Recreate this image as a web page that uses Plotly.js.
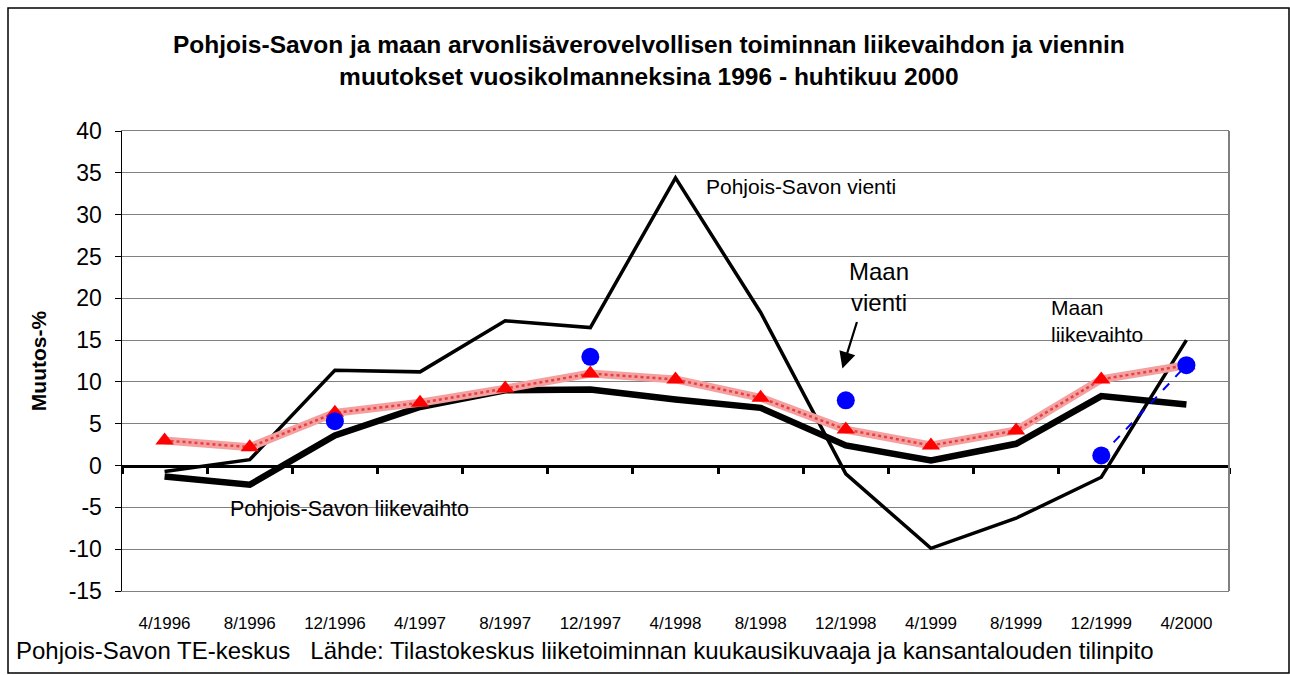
<!DOCTYPE html>
<html><head><meta charset="utf-8">
<script src="https://cdn.plot.ly/plotly-3.0.1.min.js"></script>
<style>html,body{margin:0;padding:0;background:#fff}#chart{width:1290px;height:675px}</style>
</head><body><div id="chart"></div>
<script>
const categories = ['4/1996','8/1996','12/1996','4/1997','8/1997','12/1997','4/1998','8/1998','12/1998','4/1999','8/1999','12/1999','4/2000'];
const psVienti = [-0.7, 0.7, 11.4, 11.2, 17.3, 16.5, 34.4, 18.3, -1.0, -9.9, -6.3, -1.4, 15.0];
const psLiikevaihto = [-1.3, -2.3, 3.6, 7.0, 9.0, 9.1, 7.9, 6.9, 2.4, 0.6, 2.6, 8.3, 7.3];
const maanLiikevaihto = [3.0, 2.2, 6.3, 7.5, 9.2, 11.0, 10.3, 8.1, 4.3, 2.4, 4.2, 10.3, 12.0];
const maanVienti = [null, null, 5.3, null, null, 13.0, null, null, 7.8, null, null, 1.2, 12.0];
const yTickVals = [-15, -10, -5, 0, 5, 10, 15, 20, 25, 30, 35, 40];
const yTickText = ['-15', '-10', '-5', '0', '5', '10', '15', '20', '25', '30', '35', '40'];

const idx = categories.map((c,i)=>i);
const font = 'Liberation Sans, Arial, sans-serif';
const W = 1107, H = 460, L = 122, T = 131;
const px = x => (x - L) / W;
const py = y => (T + H - y) / H;

const traces = [
  {x: idx, y: psVienti, type:'scatter', mode:'lines', line:{color:'#000', width:3.5}, hoverinfo:'skip'},
  {x: idx, y: psLiikevaihto, type:'scatter', mode:'lines', line:{color:'#000', width:6.5}, hoverinfo:'skip'},
  {x: idx, y: maanLiikevaihto, type:'scatter', mode:'lines', line:{color:'#f4a0a0', width:8}, hoverinfo:'skip'},
  {x: idx, y: maanLiikevaihto, type:'scatter', mode:'lines+markers', line:{color:'#e64040', width:2.5, dash:'dot'},
   marker:{symbol:'triangle-up', size:16, color:'#ff0000'}, hoverinfo:'skip'},
  {x: idx, y: maanVienti, type:'scatter', mode:'lines+markers', connectgaps:false,
   line:{color:'#0000ff', width:2, dash:'dash'}, marker:{symbol:'circle', size:18, color:'#0000ff'}, hoverinfo:'skip'},
  {x: [idx[0]], y: [0], xaxis:'x2', type:'scatter', mode:'markers', marker:{opacity:0}, hoverinfo:'skip'}
];

const boundaries = categories.map((c,i)=>i-0.5).concat([categories.length-0.5]);

const layout = {
  width:1290, height:675,
  margin:{l:L, r:1290-L-W, t:T, b:675-T-H},
  paper_bgcolor:'#fff', plot_bgcolor:'#fff',
  showlegend:false,
  font:{family:font, color:'#000'},
  title:{text:'<b>Pohjois-Savon ja maan arvonlisäverovelvollisen toiminnan liikevaihdon ja viennin<br>muutokset vuosikolmanneksina 1996 - huhtikuu 2000</b>',
         font:{size:24.5, family:font}, x:0.503, xref:'container', y:0.921, yref:'container', yanchor:'top'},
  xaxis:{range:[-0.5, categories.length-0.5], tickvals:idx, ticktext:categories, showgrid:false, zeroline:false,
         showline:true, linecolor:'#808080', linewidth:1, mirror:true, ticks:'', tickfont:{size:17, family:font},
         ticklabelstandoff:17},
  xaxis2:{overlaying:'x', matches:'x', anchor:'free', position:15/55, showline:true, linecolor:'#000', linewidth:3.5,
          ticks:'outside', tickvals:boundaries, ticklen:6, tickwidth:3, tickcolor:'#000', showticklabels:false,
          showgrid:false, zeroline:false},
  yaxis:{range:[-15,40], tickvals:yTickVals, ticktext:yTickText, showgrid:true, gridcolor:'#808080', gridwidth:1, zeroline:false,
         showline:true, linecolor:'#000', linewidth:1.5, ticks:'outside', ticklen:6, tickcolor:'#000',
         tickfont:{size:23, family:font}, ticklabelstandoff:8,
         title:{text:'<b>Muutos-%</b>', font:{size:21, family:font}, standoff:16}},
  annotations:[
    {x:6.34, y:33.4, xref:'x', yref:'y', text:'Pohjois-Savon vienti', showarrow:false, xanchor:'left', font:{size:21, family:font}},
    {x:0.74, y:-5.2, xref:'x', yref:'y', text:'Pohjois-Savon liikevaihto', showarrow:false, xanchor:'left', font:{size:21.5, family:font}},
    {x:8.39, y:21.3, xref:'x', yref:'y', text:'Maan<br>vienti', showarrow:false, xanchor:'center', font:{size:24, family:font}},
    {x:7.96, y:11.6, xref:'x', yref:'y', text:'', showarrow:true, arrowhead:2, arrowsize:1.5, arrowwidth:2.2, arrowcolor:'#000', ax:15, ay:-48},
    {x:10.39, y:17.3, xref:'x', yref:'y', text:'Maan<br>liikevaihto', showarrow:false, xanchor:'left', align:'left', font:{size:21, family:font}},
    {x:px(14), y:py(650), xref:'paper', yref:'paper', text:'Pohjois-Savon TE-keskus   Lähde: Tilastokeskus liiketoiminnan kuukausikuvaaja ja kansantalouden tilinpito',
     showarrow:false, xanchor:'left', yanchor:'middle', font:{size:24, family:font}}
  ],
  shapes:[
    {type:'line', xref:'paper', yref:'paper', x0:1, x1:1, y0:0, y1:1, line:{color:'#808080', width:2}},
    {type:'rect', xref:'paper', yref:'paper', x0:px(8), x1:px(1289), y0:py(673), y1:py(8), line:{color:'#000', width:1.5}}
  ]
};
Plotly.newPlot('chart', traces, layout, {staticPlot:true});
</script></body></html>
